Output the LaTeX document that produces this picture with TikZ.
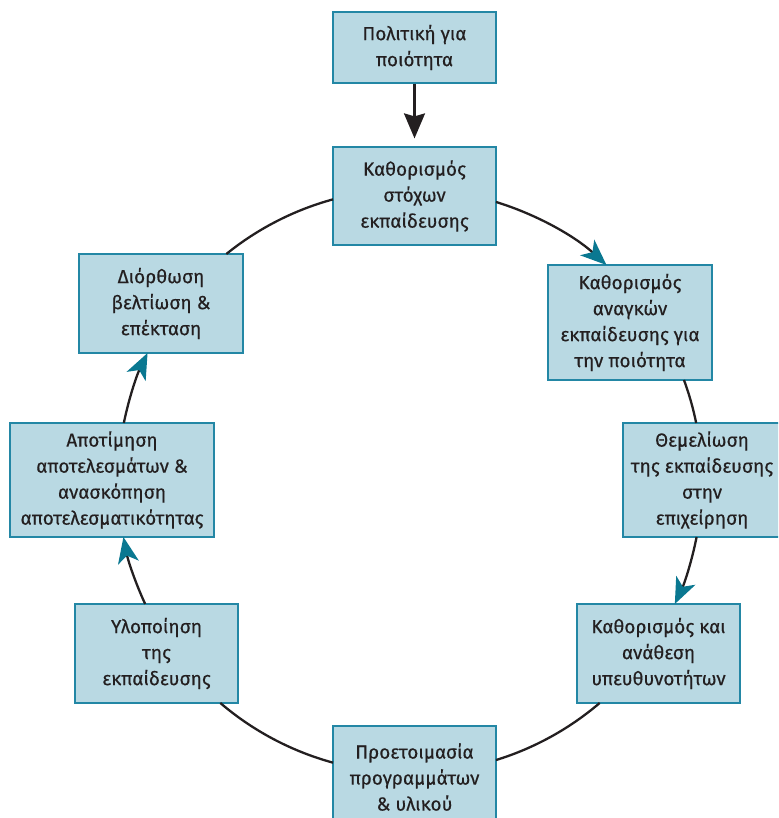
\documentclass[tikz,border=0pt]{standalone}
\usepackage{fontspec}
\setmainfont{Fira Sans}[FakeBold=0.35]
\usetikzlibrary{arrows.meta}
\definecolor{boxfill}{RGB}{185,217,227}
\definecolor{boxline}{RGB}{35,135,165}
\definecolor{tealhead}{RGB}{10,120,145}
\definecolor{ink}{RGB}{35,31,32}
\begin{document}
\begin{tikzpicture}[x=1pt,y=-1pt,
  box/.style={draw=boxline, line width=1.2pt, fill=boxfill, align=center,
    inner sep=0pt, text=ink, font=\fontsize{19}{26}\selectfont},
  cyc/.style={line width=2.3pt, draw=ink},
  tealtip/.style={-{Stealth[length=26pt,width=21pt,inset=7pt,color=tealhead,fill=tealhead]}},
  blacktip/.style={line width=2.3pt, draw=ink,
    -{Stealth[length=25pt,width=21pt,inset=3pt,color=ink,fill=ink]}}]
\useasboundingbox (0,0) rectangle (778,818);
\clip (0,0) rectangle (778,818);
\coordinate (C) at (410,481);
\def\R{292}

\node[box, minimum width=163pt, minimum height=71pt] (n1) at (414.5,47.5) {Πολιτική για\\ποιότητα};
\node[box, minimum width=163pt, minimum height=98pt] (n2) at (414.5,196) {Καθορισμός\\στόχων\\εκπαίδευσης};
\node[box, minimum width=164pt, minimum height=115pt] (n3) at (630,322.5) {Καθορισμός\\αναγκών\\εκπαίδευσης για\\την ποιότητα};
\node[box, minimum width=158pt, minimum height=114pt] (n4) at (702,480) {Θεμελίωση\\της εκπαίδευσης\\στην\\επιχείρηση};
\node[box, minimum width=163pt, minimum height=99pt] (n5) at (658.5,653.5) {Καθορισμός και\\ανάθεση\\υπευθυνοτήτων};
\node[box, minimum width=163pt, minimum height=102pt] (n6) at (414.5,777) {Προετοιμασία\\προγραμμάτων\\\& υλικού};
\node[box, minimum width=163pt, minimum height=99pt] (n7) at (156.5,653.5) {Υλοποίηση\\της\\εκπαίδευσης};
\node[box, minimum width=204pt, minimum height=114pt] (n8) at (112,480) {Αποτίμηση\\αποτελεσμάτων \&\\ανασκόπηση\\αποτελεσματικότητας};
\node[box, minimum width=164pt, minimum height=99pt] (n9) at (161,303.5) {Διόρθωση\\βελτίωση \&\\επέκταση};

\draw[blacktip, shorten >=8pt] (n1) -- (n2);

% cycle arcs (centre C, radius R), from box border to box border
\draw[cyc, tealtip] ([shift={(-72.87:\R)}]C) arc[start angle=-72.87, end angle=-47.71, radius=\R];
\draw[cyc] ([shift={(-20.24:\R)}]C) arc[start angle=-20.24, end angle=-11.46, radius=\R];
\draw[cyc, tealtip] ([shift={(11.06:\R)}]C) arc[start angle=11.06, end angle=24.91, radius=\R];
\draw[cyc] ([shift={(49.48:\R)}]C) arc[start angle=49.48, end angle=72.87, radius=\R];
\draw[cyc] ([shift={(105.29:\R)}]C) arc[start angle=105.29, end angle=130.52, radius=\R];
\draw[cyc, tealtip] ([shift={(155.09:\R)}]C) arc[start angle=155.09, end angle=168.94, radius=\R];
\draw[cyc, tealtip] ([shift={(191.46:\R)}]C) arc[start angle=191.46, end angle=206.0, radius=\R];
\draw[cyc] ([shift={(231.03:\R)}]C) arc[start angle=231.03, end angle=254.71, radius=\R];
\end{tikzpicture}
\end{document}
